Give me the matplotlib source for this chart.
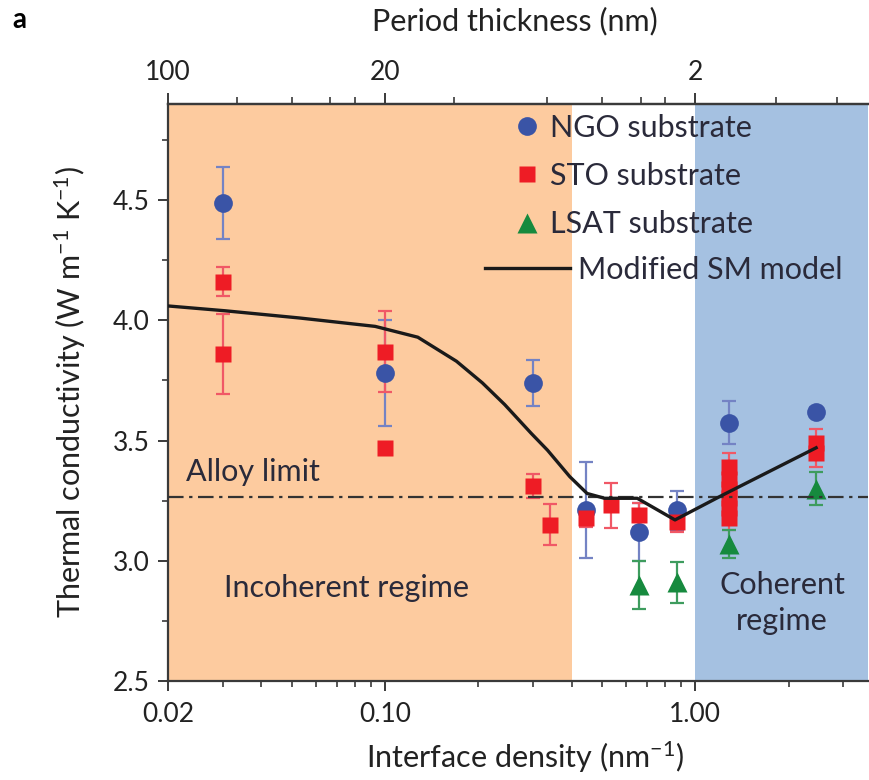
import matplotlib
matplotlib.use("Agg")
import matplotlib.pyplot as plt
from matplotlib.lines import Line2D
from matplotlib.ticker import FixedLocator, NullFormatter, FixedFormatter

plt.rcParams['font.family'] = ['Lato', 'DejaVu Sans']
plt.rcParams['mathtext.default'] = 'regular'

# ---------------- data ----------------
ngo_x = [0.03, 0.1, 0.3, 0.445, 0.66, 0.87, 1.28, 2.45]
ngo_y = [4.49, 3.78, 3.74, 3.21, 3.12, 3.21, 3.575, 3.62]
ngo_err = [0.15, 0.22, 0.095, 0.20, 0.12, 0.08, 0.09, 0.02]

sto_x = [0.03, 0.03, 0.1, 0.1, 0.3, 0.34, 0.445, 0.535, 0.66, 0.87,
         1.28, 1.28, 1.28, 1.28, 1.28, 1.28, 2.45, 2.45]
sto_y = [4.16, 3.86, 3.87, 3.47, 3.31, 3.15, 3.18, 3.23, 3.19, 3.16,
         3.18, 3.22, 3.26, 3.30, 3.34, 3.39, 3.45, 3.49]
sto_err = [0.06, 0.165, 0.17, 0.02, 0.05, 0.085, 0.04, 0.095, 0.05, 0.04,
           0.05, 0.05, 0.05, 0.05, 0.05, 0.06, 0.06, 0.06]

lsat_x = [0.66, 0.87, 1.28, 2.45]
lsat_y = [2.90, 2.91, 3.07, 3.30]
lsat_err = [0.10, 0.085, 0.06, 0.07]

model_x = [0.02, 0.0305, 0.053, 0.093, 0.1276, 0.17, 0.206, 0.243, 0.296,
           0.334, 0.394, 0.448, 0.51, 0.65, 0.86, 1.21, 2.45]
model_y = [4.06, 4.04, 4.01, 3.975, 3.93, 3.83, 3.74, 3.65, 3.53,
           3.46, 3.35, 3.28, 3.26, 3.26, 3.17, 3.27, 3.47]

alloy_limit = 3.265
incoherent_end = 0.40
coherent_start = 1.0

x_ticks = [0.02, 0.1, 1.0]
x_ticklabels = ["0.02", "0.10", "1.00"]
top_ticks = [100, 20, 2]
top_ticklabels = ["100", "20", "2"]
top_minor = [60, 40, 30, 25, 12, 6, 4, 3, 2.5, 1.1, 0.7]
y_ticks = [2.5, 3.0, 3.5, 4.0, 4.5]

# ---------------- style ----------------
c_orange = '#FDCB9F'
c_blue = '#A5C1E1'
c_ngo = '#3A54A6'
c_sto = '#EE1C25'
c_lsat = '#168A3E'
e_ngo = '#7483C4'
e_sto = '#F05866'
e_lsat = '#3E9C5E'
spine_c = '#3a3a3a'
txt_c = '#2a2a3a'
fs_tick = 19
fs = 22

W, H = 869, 780
fig = plt.figure(figsize=(W/100, H/100), dpi=100)
ax = fig.add_axes([168/W, 1-681/H, 700/W, (681-104)/H])
ax.set_xscale('log')
ax.set_xlim(0.02, 3.6)
ax.set_ylim(2.5, 4.9)

ax.axvspan(0.02, incoherent_end, color=c_orange, lw=0, zorder=0)
ax.axvspan(coherent_start, 3.6, color=c_blue, lw=0, zorder=0)

# error bars
ax.errorbar(ngo_x, ngo_y, yerr=ngo_err, fmt='none', ecolor=e_ngo, elinewidth=1.6,
            capsize=5, capthick=1.6, zorder=2)
ax.errorbar(sto_x, sto_y, yerr=sto_err, fmt='none', ecolor=e_sto, elinewidth=1.6,
            capsize=5, capthick=1.6, zorder=2)
ax.errorbar(lsat_x, lsat_y, yerr=lsat_err, fmt='none', ecolor=e_lsat, elinewidth=1.6,
            capsize=5, capthick=1.6, zorder=2)

ax.plot(ngo_x, ngo_y, 'o', ms=13.5, color=c_ngo, mec='none', zorder=3)
ax.plot(lsat_x, lsat_y, '^', ms=15, color=c_lsat, mec='none', zorder=3)
ax.plot(sto_x, sto_y, 's', ms=12, color=c_sto, mec='none', zorder=3.5)

ax.axhline(alloy_limit, color='#333333', lw=1.6, ls=(0, (7, 2.5, 1.5, 2.5)), zorder=4)
ax.plot(model_x, model_y, '-', color='#1a1a1a', lw=2.4, zorder=5)

# texts
ax.text(18/700, (681-472)/577, "Alloy limit", transform=ax.transAxes, fontsize=fs,
        ha='left', va='center', color=txt_c)
ax.text((346-168)/700, (681-588)/577, "Incoherent regime", transform=ax.transAxes,
        fontsize=fs, ha='center', va='center', color=txt_c)
ax.text((782-168)/700, (681-603)/577, "Coherent\nregime", transform=ax.transAxes,
        fontsize=fs, ha='center', va='center', color=txt_c, linespacing=1.35)

# axes / ticks
for s in ['left', 'bottom', 'top']:
    ax.spines[s].set_color(spine_c)
    ax.spines[s].set_linewidth(1.6)
ax.spines['right'].set_visible(False)

ax.xaxis.set_major_locator(FixedLocator(x_ticks))
ax.xaxis.set_major_formatter(FixedFormatter(x_ticklabels))
ax.xaxis.set_minor_formatter(NullFormatter())
ax.set_yticks(y_ticks)
ax.set_yticklabels([f"{v:.1f}" for v in y_ticks])
ax.yaxis.set_minor_locator(FixedLocator([2.75, 3.25, 3.75, 4.25, 4.75]))
ax.tick_params(axis='both', which='major', direction='out', length=7, width=1.4,
               color=spine_c, labelsize=fs_tick, labelcolor='#222222')
ax.tick_params(axis='both', which='minor', direction='out', length=4, width=1.2,
               color=spine_c)
ax.tick_params(axis='x', which='major', pad=8)
ax.tick_params(axis='y', which='major', pad=6)

sec = ax.secondary_xaxis('top', functions=(lambda d: 2.0/d, lambda p: 2.0/p))
sec.set_xticks(top_ticks)
sec.set_xticklabels(top_ticklabels)
sec.xaxis.set_minor_locator(FixedLocator(top_minor))
sec.xaxis.set_minor_formatter(NullFormatter())
sec.tick_params(axis='x', which='major', direction='out', length=8, width=1.4,
                color=spine_c, labelsize=fs_tick, labelcolor='#222222', pad=6)
sec.tick_params(axis='x', which='minor', direction='out', length=5, width=1.2,
                color=spine_c)
sec.spines['top'].set_color(spine_c)
sec.spines['top'].set_linewidth(1.6)

# axis titles
fig.text(515/W, 1-21/H, "Period thickness (nm)", fontsize=fs, color='#222222',
         ha='center', va='center')
fig.text(525/W, 1-757/H, "Interface density (nm$^{-1}$)", fontsize=fs, color='#222222',
         ha='center', va='center')
fig.text(70/W, 1-392/H, "Thermal conductivity (W m$^{-1}$ K$^{-1}$)", fontsize=fs,
         color='#222222', ha='center', va='center', rotation=90)

fig.text(12/W, 1-20/H, "a", fontsize=20, fontweight='bold', ha='left', va='center')

# legends
h1 = [Line2D([], [], ls='none', marker='o', ms=13.5, color=c_ngo, mec='none'),
      Line2D([], [], ls='none', marker='s', ms=12, color=c_sto, mec='none'),
      Line2D([], [], ls='none', marker='^', ms=15, color=c_lsat, mec='none')]
leg1 = ax.legend(h1, ["NGO substrate", "STO substrate", "LSAT substrate"],
                 loc='upper left', bbox_to_anchor=(512/W, 1-114/H),
                 bbox_transform=fig.transFigure, frameon=False, fontsize=fs,
                 handlelength=1.0, handletextpad=0.25, borderpad=0, borderaxespad=0,
                 labelspacing=0.66)
for t in leg1.get_texts():
    t.set_color(txt_c)
ax.add_artist(leg1)
h2 = [Line2D([], [], color='#1a1a1a', lw=2.4)]
leg2 = ax.legend(h2, ["Modified SM model"], loc='center left',
                 bbox_to_anchor=(485/W, 1-270/H), bbox_transform=fig.transFigure,
                 frameon=False, fontsize=fs, handlelength=2.78, handletextpad=0.26,
                 borderpad=0, borderaxespad=0)
for t in leg2.get_texts():
    t.set_color(txt_c)

fig.savefig("out.png", dpi=100)
